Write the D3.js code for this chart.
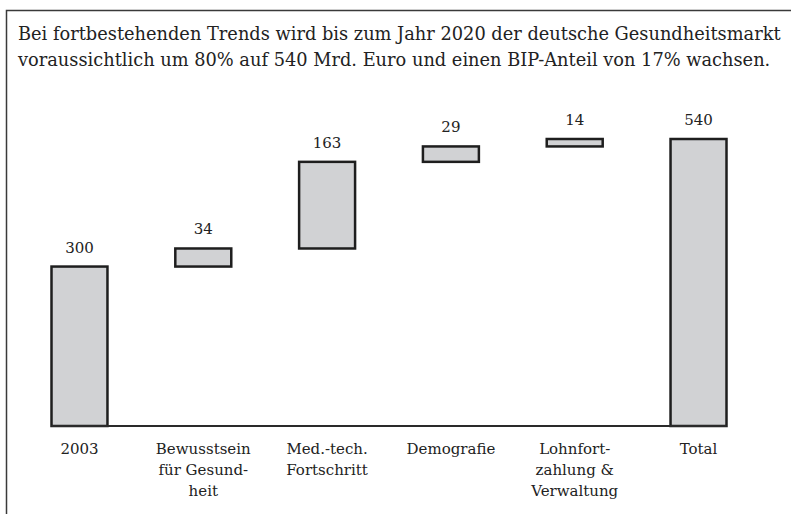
<!DOCTYPE html>
<html>
<head>
<meta charset="utf-8">
<script src="https://cdn.jsdelivr.net/npm/d3@7"></script>
<style>
  html, body { margin: 0; padding: 0; background: #fff; }
  svg { display: block; }
  text { font-family: "DejaVu Serif", serif; fill: #222; }
</style>
</head>
<body>
<svg id="chart" width="791" height="514"></svg>
<script>
// Waterfall: Gesundheitsmarkt 2003 -> 2020 (Mrd. Euro)
const categories = ["2003", "Bewusstsein für Gesundheit", "Med.-tech. Fortschritt", "Demografie", "Lohnfortzahlung & Verwaltung", "Total"];
const labelLines = [
  ["2003"],
  ["Bewusstsein", "für Gesund-", "heit"],
  ["Med.-tech.", "Fortschritt"],
  ["Demografie"],
  ["Lohnfort-", "zahlung &", "Verwaltung"],
  ["Total"]
];
const values = [300, 34, 163, 29, 14, 540];
const kinds = ["total", "delta", "delta", "delta", "delta", "total"];
const titleLines = [
  "Bei fortbestehenden Trends wird bis zum Jahr 2020 der deutsche Gesundheitsmarkt",
  "voraussichtlich um 80% auf 540 Mrd. Euro und einen BIP-Anteil von 17% wachsen."
];

const svg = d3.select("#chart");

// Outer frame (open to the right and bottom edges)
svg.append("rect")
  .attr("x", 6.5).attr("y", 10.5)
  .attr("width", 820).attr("height", 540)
  .attr("fill", "none").attr("stroke", "#3a3a3a").attr("stroke-width", 1.5);

// Title, sized to span the frame width
const title = svg.append("g");
const tLines = title.selectAll("text").data(titleLines).join("text")
  .attr("x", 18)
  .attr("y", (d, i) => 40 + i * 26)
  .style("font-size", "16px")
  .text(d => d);
const w0 = tLines.node().getComputedTextLength();
tLines.style("font-size", (16 * 763 / w0).toFixed(2) + "px");

// Running totals for the floating bars
let run = 0;
const bars = values.map((v, i) => {
  let y0, y1;
  if (kinds[i] === "total") { y0 = 0; y1 = v; run = v; }
  else { y0 = run; y1 = run + v; run = y1; }
  return { cat: categories[i], lines: labelLines[i], value: v, y0, y1 };
});

const x = d3.scaleBand()
  .domain(categories)
  .range([51.5, 726.5])
  .paddingInner(0.548)
  .paddingOuter(0);

const y = d3.scaleLinear()
  .domain([0, 540])
  .range([426, 139]);

// Baseline
svg.append("line")
  .attr("x1", x.range()[0]).attr("x2", x.range()[1])
  .attr("y1", y(0)).attr("y2", y(0))
  .attr("stroke", "#2a2a2a").attr("stroke-width", 2);

// Bars
svg.append("g").selectAll("rect").data(bars).join("rect")
  .attr("x", d => x(d.cat))
  .attr("y", d => y(d.y1))
  .attr("width", x.bandwidth())
  .attr("height", d => y(d.y0) - y(d.y1))
  .attr("fill", "#d1d2d4")
  .attr("stroke", "#1e1e1e")
  .attr("stroke-width", 2.5);

// Redraw baseline on top of bar bottoms
svg.append("line")
  .attr("x1", x.range()[0]).attr("x2", x.range()[1])
  .attr("y1", y(0)).attr("y2", y(0))
  .attr("stroke", "#2a2a2a").attr("stroke-width", 2);

// Value labels
svg.append("g").selectAll("text").data(bars).join("text")
  .attr("x", d => x(d.cat) + x.bandwidth() / 2)
  .attr("y", d => y(d.y1) - 14)
  .attr("text-anchor", "middle")
  .style("font-size", "15px")
  .text(d => d.value);

// Category labels
const cat = svg.append("g").selectAll("text").data(bars).join("text")
  .attr("text-anchor", "middle")
  .style("font-size", "15px");
cat.selectAll("tspan").data(d => d.lines.map(l => ({ l, cx: x(d.cat) + x.bandwidth() / 2 })))
  .join("tspan")
  .attr("x", d => d.cx)
  .attr("y", (d, i) => 454 + i * 21)
  .text(d => d.l);
</script>
</body>
</html>
